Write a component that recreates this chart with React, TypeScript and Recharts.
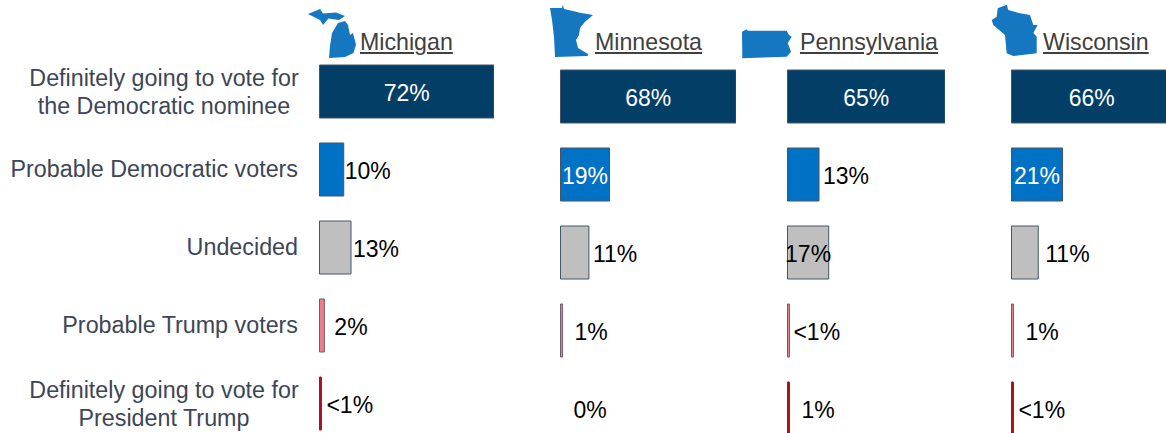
import { Bar, BarChart, Cell, LabelList, XAxis, YAxis } from "recharts";

const ROWS = [
  "Definitely going to vote for\nthe Democratic nominee",
  "Probable Democratic voters",
  "Undecided",
  "Probable Trump voters",
  "Definitely going to vote for\nPresident Trump",
];

const MICHIGAN_VALUES = [72, 10, 13, 2, 0.8];
const MINNESOTA_VALUES = [68, 19, 11, 0.8, 0];
const PENNSYLVANIA_VALUES = [65, 13, 17, 0.8, 0.8];
const WISCONSIN_VALUES = [66, 21, 11, 0.8, 0.8];

const MICHIGAN_LABELS = ["72%", "10%", "13%", "2%", "<1%"];
const MINNESOTA_LABELS = ["68%", "19%", "11%", "1%", "0%"];
const PENNSYLVANIA_LABELS = ["65%", "13%", "17%", "<1%", "1%"];
const WISCONSIN_LABELS = ["66%", "21%", "11%", "1%", "<1%"];

const ROW_FILLS = ["#023e66", "#0072c6", "#bfbfbf", "#ee7f8a", "#ae101e"];
const ROW_STROKES = ["#44546a", "#44546a", "#44546a", "#6f5c6c", "#ae101e"];

const FONT = "'Liberation Sans', Arial, sans-serif";
const ROW_HEIGHT = 78;
const PAD = 4; // room left of the bars so a centred label wider than its bar is not clipped

// null means the label sits centred in the bar, otherwise it is the gap to the bar end
const panels = [
  { name: "Michigan", values: MICHIGAN_VALUES, labels: MICHIGAN_LABELS, left: 0, top: 52, plot: 174, nameX: 360, gaps: [null, 1, 2, 10, 5] },
  { name: "Minnesota", values: MINNESOTA_VALUES, labels: MINNESOTA_LABELS, left: 560, top: 57, plot: 175, nameX: 595, gaps: [null, null, 4, 12, 13] },
  { name: "Pennsylvania", values: PENNSYLVANIA_VALUES, labels: PENNSYLVANIA_LABELS, left: 787, top: 57, plot: 157, nameX: 800, gaps: [null, 4, null, 4, 12] },
  { name: "Wisconsin", values: WISCONSIN_VALUES, labels: WISCONSIN_LABELS, left: 1011, top: 57, plot: 160, nameX: 1043, gaps: [null, null, 7, 12, 5] },
];

const STATE_SHAPES = [
  "M308 14L320 9L323 13.5L336 12.5L345 16L339 20L328.5 18.5L323 25L320 20ZM338 23L345 21L348 25L350 35L353 33L356 44.6L353.5 53L345 57L329 58L330 46L332 33Z",
  "M550 8L562 8L562.7 4.7L564 9L573 11L580 12.7L593 15L585 21.7L580 28L579 35L576 40L578 48L588 54L587.7 56L555 57L554 37L552 20Z",
  "M742 31.7L746.7 29.3L747.7 30.7L786.7 30.7L789 35L791.7 36.7L787.7 43.3L791 51.7L786.7 56.7L742.3 58.3Z",
  "M997.7 8.3L1006.7 4.7L1008.3 10L1020 13.3L1030 15L1033.3 25L1037.7 25L1033.3 33L1036.7 36.7L1036.7 53.3L1013.3 56L1006.7 53.3L1005 35L993.3 25L991.7 20L996.7 16.7Z",
];

function RowTick({ y, payload }: any) {
  const lines = String(payload.value).split("\n");
  const two = lines.length > 1;
  return (
    <text textAnchor={two ? "middle" : "end"} fontFamily={FONT} fontSize={23.3} fill="#3c4656">
      {lines.map((line, i) => (
        <tspan key={line} x={two ? 164 : 298} y={y + (two ? (i === 0 ? -13 : 15) : 0) + 8}>
          {line}
        </tspan>
      ))}
    </text>
  );
}

function Panel({ panel, showRows }: { panel: (typeof panels)[number]; showRows: boolean }) {
  // a zero bar gets dropped along with its label, so it is drawn as an invisible sliver
  const data = ROWS.map((row, i) => ({ row, value: panel.values[i] || 0.01 }));
  const axisWidth = showRows ? 319 : 0;
  const pad = showRows ? 0 : PAD;

  const renderLabel = (props: any) => {
    const { x, y, width, height, index } = props;
    const gap = panel.gaps[index];
    const inside = gap === null;
    return (
      <text
        x={inside ? x + width / 2 : x + width + gap}
        y={y + height / 2 + 9}
        textAnchor={inside ? "middle" : "start"}
        fontFamily={FONT}
        fontSize={23}
        fill={inside && index < 2 ? "#ffffff" : "#000000"}
      >
        {panel.labels[index]}
      </text>
    );
  };

  return (
    <div style={{ position: "absolute", left: panel.left - pad, top: panel.top }}>
      <BarChart
        width={axisWidth + pad + panel.plot + 1}
        height={ROW_HEIGHT * ROWS.length}
        data={data}
        layout="vertical"
        margin={{ top: 0, right: 0, bottom: 0, left: pad + 0.5 }}
      >
        <XAxis type="number" hide domain={[0, panel.values[0]]} />
        <YAxis
          type="category"
          dataKey="row"
          hide={!showRows}
          width={axisWidth}
          axisLine={false}
          tickLine={false}
          interval={0}
          tick={RowTick}
        />
        <Bar dataKey="value" barSize={53} isAnimationActive={false}>
          {data.map((d, i) => (
            <Cell
              key={d.row}
              fill={panel.values[i] ? ROW_FILLS[i] : "none"}
              stroke={panel.values[i] ? ROW_STROKES[i] : "none"}
              strokeWidth={1}
            />
          ))}
          <LabelList dataKey="value" content={renderLabel} />
        </Bar>
      </BarChart>
    </div>
  );
}

export default function App() {
  return (
    <div style={{ position: "absolute", left: 0, top: 0, width: 1166, height: 433, overflow: "hidden", background: "#fff", fontFamily: FONT }}>
      <svg width={1166} height={70} style={{ position: "absolute", left: 0, top: 0 }}>
        {STATE_SHAPES.map((d) => (
          <path key={d} d={d} fill="#1577c0" />
        ))}
      </svg>
      {panels.map((p) => (
        <div
          key={p.name}
          style={{ position: "absolute", left: p.nameX, top: 29, fontSize: 23.2, lineHeight: "27px", color: "#404040", textDecoration: "underline" }}
        >
          {p.name}
        </div>
      ))}
      {panels.map((p, i) => (
        <Panel key={p.name} panel={p} showRows={i === 0} />
      ))}
    </div>
  );
}
